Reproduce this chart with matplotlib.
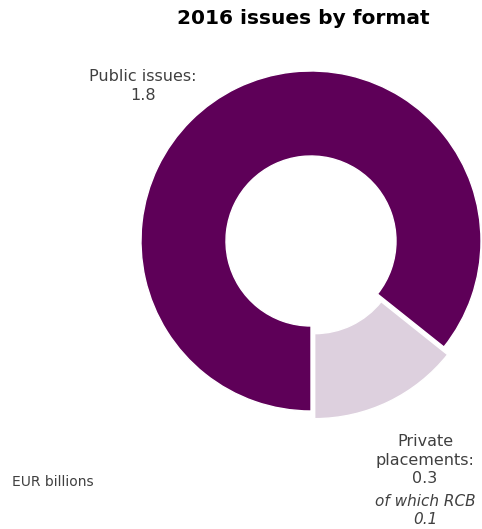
import matplotlib.pyplot as plt

# 2016 issuance split by format, EUR billions
formats = ["Private placements", "Public issues"]
amounts = [0.3, 1.8]
rcb_amount = 0.1
colors = ["#DDD0DE", "#5E0058"]

W, H = 482, 529
fig = plt.figure(figsize=(W / 100, H / 100), dpi=100)

# pie centre at (311, 241) px from the top-left, radius 170 px
cx, cy, r = 311, 241, 170
ax = fig.add_axes([(cx - r) / W, (H - cy - r) / H, 2 * r / W, 2 * r / H])
ax.pie(amounts, colors=colors, startangle=-90, counterclock=True,
       explode=[0.05, 0],
       wedgeprops=dict(width=0.5, edgecolor="white", linewidth=1))
ax.set_xlim(-1, 1)
ax.set_ylim(-1, 1)
ax.set_aspect("equal")
ax.axis("off")

txt = "#404040"
fig.text(303 / W, 1 - 18 / H, "2016 issues by format", ha="center", va="center",
         fontsize=14.5, fontweight="bold", color="black")
fig.text(143 / W, 1 - 86 / H, f"{formats[1]}:\n{amounts[1]}", ha="center", va="center",
         fontsize=11.5, color=txt, linespacing=1.37)
fig.text(425 / W, 1 - 460 / H, f"Private\nplacements:\n{amounts[0]}", ha="center", va="center",
         fontsize=11.5, color=txt, linespacing=1.28)
fig.text(425 / W, 1 - 510 / H, f"of which RCB\n{rcb_amount}", ha="center", va="center",
         fontsize=11, color=txt, style="italic", linespacing=1.25)
fig.text(12 / W, 1 - 482 / H, "EUR billions", ha="left", va="center",
         fontsize=10, color=txt)

fig.savefig("out.png", dpi=100)
